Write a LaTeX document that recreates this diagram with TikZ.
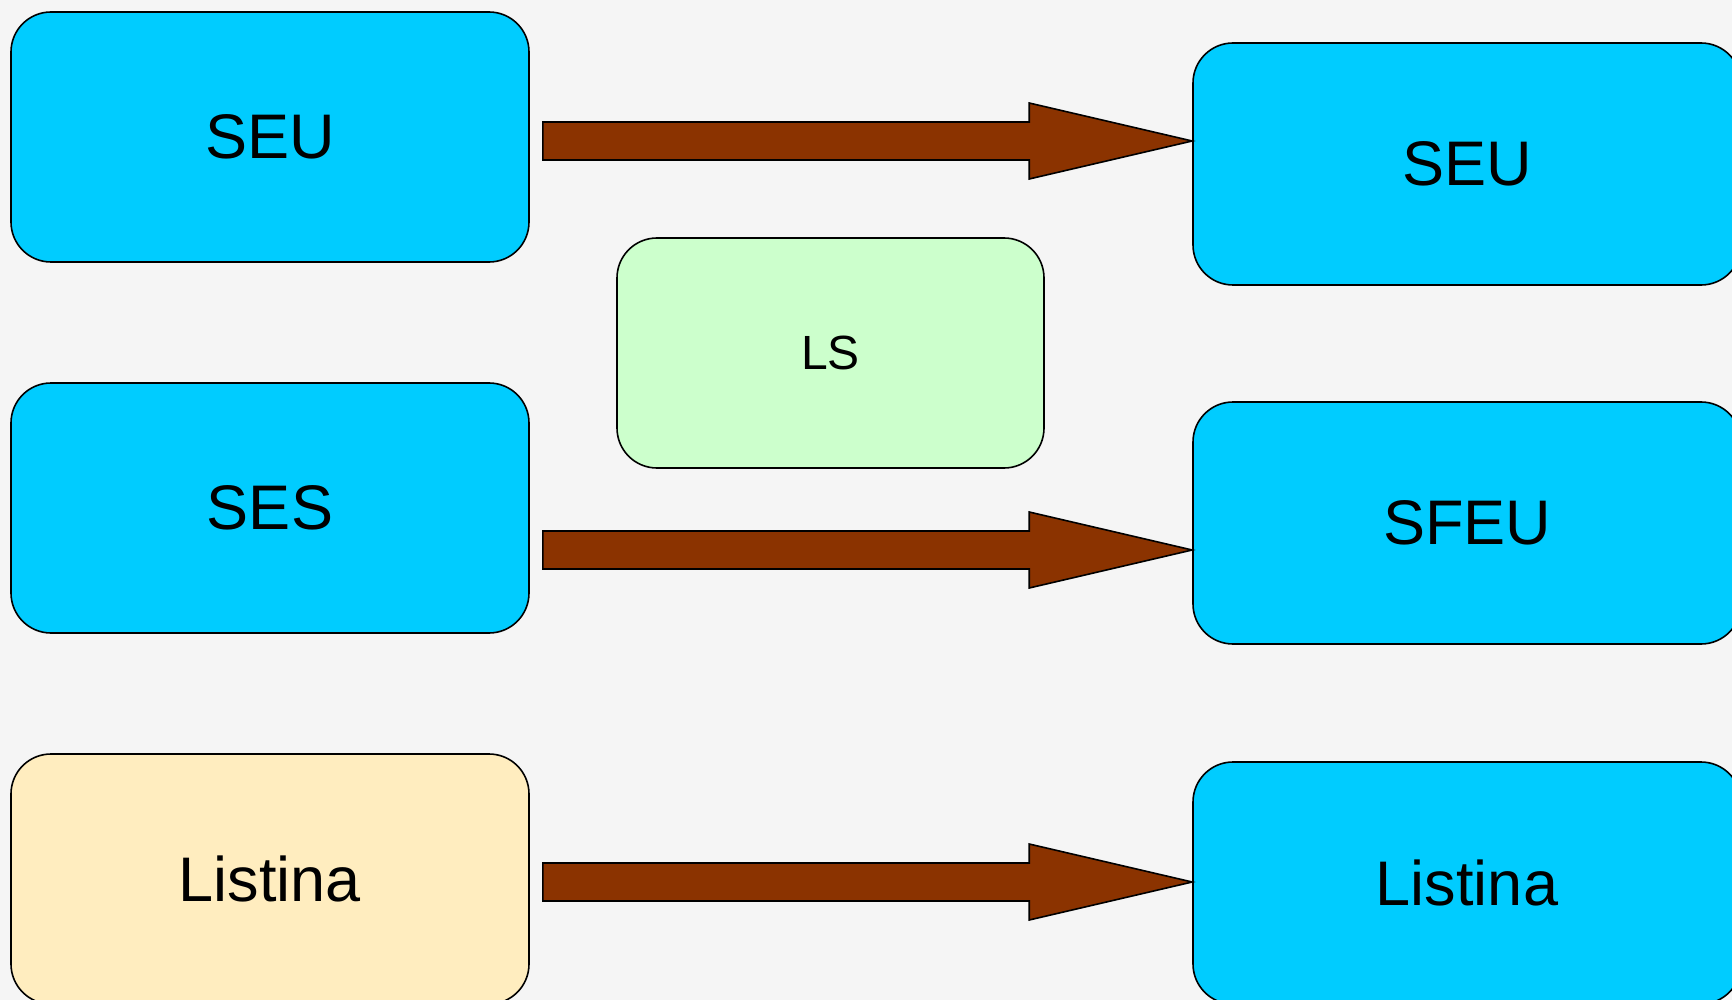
\documentclass[tikz,border=0pt]{standalone}
\usepackage{fontspec}
\setmainfont{Liberation Sans}
\usetikzlibrary{calc}
\definecolor{bgc}{HTML}{F5F5F5}
\definecolor{bluec}{HTML}{00CCFF}
\definecolor{greenc}{HTML}{CCFFCC}
\definecolor{yellowc}{HTML}{FFEDBF}
\definecolor{brownc}{HTML}{8B3300}
\tikzset{
  box/.style={draw=black, line width=1.6pt, rounded corners=40pt, inner sep=0pt,
    font=\fontsize{63}{68}\selectfont},
  lbox/.style={box, fill=bluec, minimum width=518pt, minimum height=250pt},
  rbox/.style={box, fill=bluec, minimum width=548pt, minimum height=242pt},
  ybox/.style={box, fill=yellowc, minimum width=518pt, minimum height=250pt},
  gbox/.style={box, fill=greenc, minimum width=427pt, minimum height=230pt,
    font=\fontsize{48}{54}\selectfont},
  bigarrow/.style={draw=black, line width=1.6pt, fill=brownc, line join=miter}
}
\newcommand\bigarr[2]{%
  \draw[bigarrow] ($(#1)+(0,19)$) -- ($(#2)+(-163,19)$) -- ($(#2)+(-163,38)$)
    -- (#2) -- ($(#2)+(-163,-38)$) -- ($(#2)+(-163,-19)$) -- ($(#1)+(0,-19)$) -- cycle;}
\begin{document}
\begin{tikzpicture}[x=1pt, y=-1pt]
\useasboundingbox (0,0) rectangle (1732,1000);
\clip (0,0) rectangle (1732,1000);
\fill[bgc] (0,0) rectangle (1732,1000);

\node[lbox] (seuL) at (270,137) {SEU};
\node[lbox] (sesL) at (270,508) {SES};
\node[ybox] (listL) at (270,879) {Listina};
\node[rbox] (seuR) at (1467,164) {SEU};
\node[rbox] (sfeuR) at (1467,523) {SFEU};
\node[rbox] (listR) at (1467,883) {Listina};
\node[gbox] (ls) at (830.5,353) {LS};

\coordinate (a1s) at ($(seuL.east |- 0,141)+(13,0)$);
\coordinate (a1t) at (seuR.west |- a1s);
\coordinate (a2s) at ($(sesL.east |- 0,550)+(13,0)$);
\coordinate (a2t) at (sfeuR.west |- a2s);
\coordinate (a3s) at ($(listL.east |- 0,882)+(13,0)$);
\coordinate (a3t) at (listR.west |- a3s);
\bigarr{a1s}{a1t}
\bigarr{a2s}{a2t}
\bigarr{a3s}{a3t}
\end{tikzpicture}
\end{document}
